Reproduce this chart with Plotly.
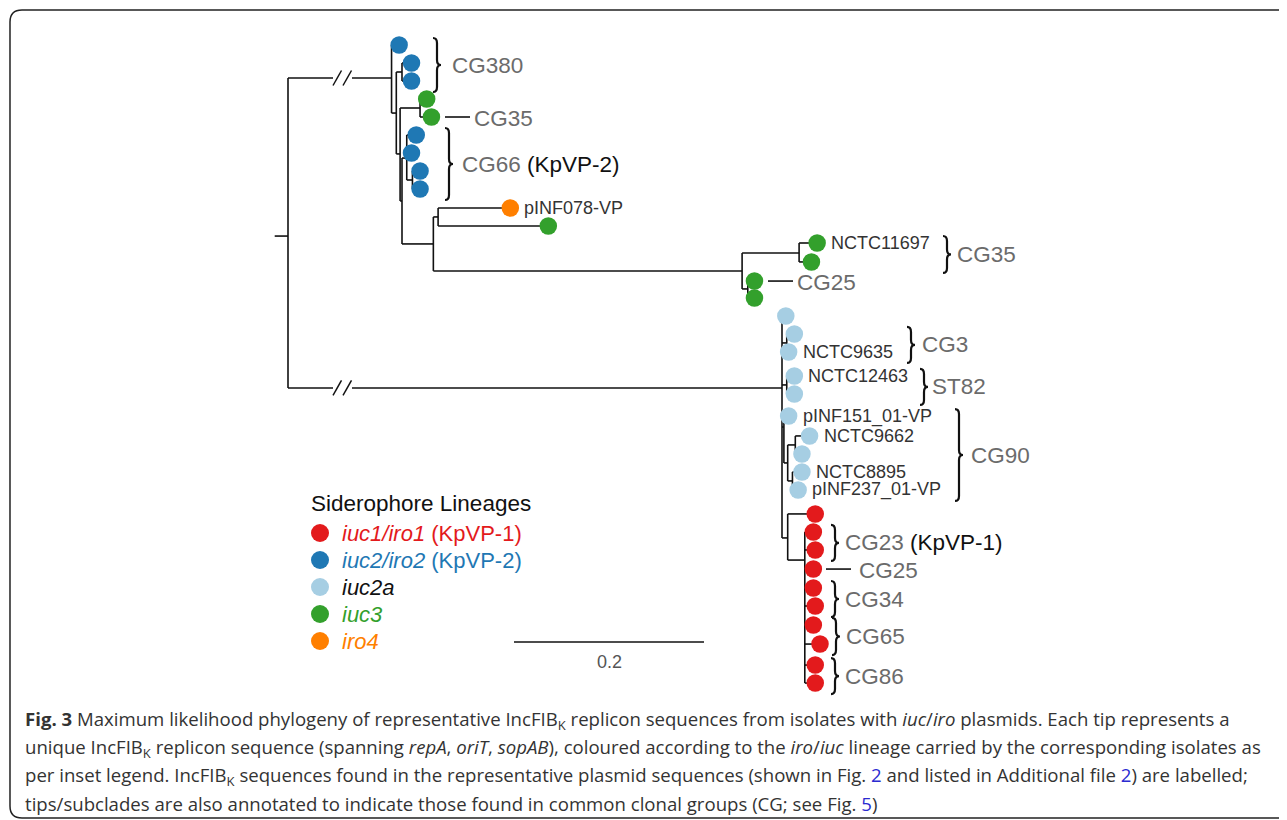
import plotly.graph_objects as go

# ---------------- data ----------------
# tips (top to bottom): parent node, siderophore lineage, divergence x (subs/site, display), row position
tip_parent = ["N1", "N3", "N3", "N5", "N5", "N7", "N7", "N9", "N9", "N10", "N10",
              "N12", "N12", "N13", "N13",
              "LB", "LB1", "LB1", "LB2", "LB2", "LB3", "LB5", "LB5", "LB6", "LB6",
              "RED", "R2", "R2", "R2", "R2", "R2", "R2", "R2", "R2", "R2"]
tip_lineage = ["iuc2", "iuc2", "iuc2", "iuc3", "iuc3", "iuc2", "iuc2", "iuc2", "iuc2", "iro4", "iuc3",
               "iuc3", "iuc3", "iuc3", "iuc3",
               "iuc2a", "iuc2a", "iuc2a", "iuc2a", "iuc2a", "iuc2a", "iuc2a", "iuc2a", "iuc2a", "iuc2a",
               "iuc1", "iuc1", "iuc1", "iuc1", "iuc1", "iuc1", "iuc1", "iuc1", "iuc1", "iuc1"]
tip_x = [0.117, 0.130, 0.130, 0.146, 0.151, 0.135, 0.130, 0.139, 0.139, 0.234, 0.274,
         0.557, 0.551, 0.491, 0.491,
         0.524, 0.533, 0.527, 0.533, 0.533, 0.527, 0.549, 0.541, 0.541, 0.537,
         0.555, 0.553, 0.555, 0.553, 0.553, 0.555, 0.553, 0.560, 0.555, 0.555]
tip_row = [0.00, 0.96, 1.92, 2.88, 3.84, 4.80, 5.76, 6.72, 7.68, 8.69, 9.65,
           10.56, 11.57, 12.59, 13.49,
           14.45, 15.41, 16.37, 17.65, 18.61, 19.79, 20.85, 21.81, 22.77, 23.73,
           25.01, 25.97, 26.93, 27.95, 28.96, 29.92, 30.93, 31.95, 33.07, 34.03]
tip_label = ["", "", "", "", "", "", "", "", "", "pINF078-VP", "",
             "NCTC11697", "", "", "",
             "", "", "NCTC9635", "NCTC12463", "", "pINF151_01-VP", "NCTC9662", "", "NCTC8895", "pINF237_01-VP",
             "", "", "", "", "", "", "", "", "", ""]

# internal nodes
node_id = ["root", "N1", "N2", "N3", "N4", "N5", "N6", "N7", "N9", "N8", "N10", "N11", "N12", "N13",
           "LB", "LB1", "LB2", "LB3", "LB4", "LB5", "LB6", "RED", "R2"]
node_parent = [None, "root", "N1", "N2", "N2", "N4", "N4", "N6", "N7", "N6", "N8", "N8", "N11", "N11",
               "root", "LB", "LB", "LB", "LB3", "LB4", "LB4", "LB", "RED"]
node_x = [0.0, 0.109, 0.114, 0.120, 0.118, 0.139, 0.120, 0.125, 0.131, 0.153, 0.158, 0.478, 0.538, 0.484,
          0.520, 0.525, 0.525, 0.522, 0.526, 0.534, 0.531, 0.526, 0.544]
node_row = [10.19, 1.76, 3.63, 1.44, 5.81, 3.36, 8.32, 6.03, 7.20, 10.61, 9.17, 12.05, 11.09, 13.01,
            18.29, 15.89, 18.13, 20.37, 22.29, 21.33, 23.25, 26.29, 27.47]
broken_branches = ["N1", "LB"]
root_edge = 0.014
scale_len = 0.2

# clade annotations
clade_text = ["CG380", "CG35", "CG66", "CG35", "CG25", "CG3", "ST82", "CG90",
              "CG23", "CG25", "CG34", "CG65", "CG86"]
clade_suffix = ["", "", " (KpVP-2)", "", "", "", "", "", " (KpVP-1)", "", "", "", ""]
clade_first = [1, 5, 6, 12, 14, 17, 19, 21, 27, 29, 30, 32, 34]
clade_last = [3, 5, 9, 13, 14, 18, 20, 25, 28, 29, 31, 33, 35]
clade_kind = ["brace", "dash", "brace", "brace", "dash", "brace", "brace", "brace",
              "brace", "dash", "brace", "brace", "brace"]

# legend
lineage_keys = ["iuc1", "iuc2", "iuc2a", "iuc3", "iro4"]
lineage_colors = ["#e31a1c", "#1f78b4", "#a6cee3", "#33a02c", "#ff7f00"]
lineage_names = ["<i>iuc1/iro1</i> (KpVP-1)", "<i>iuc2/iro2</i> (KpVP-2)", "<i>iuc2a</i>",
                 "<i>iuc3</i>", "<i>iro4</i>"]
lineage_text_colors = ["#e31a1c", "#1f78b4", "#111111", "#33a02c", "#ff7f00"]
legend_title = "Siderophore Lineages"

caption_lines = [
    "<b>Fig. 3</b> Maximum likelihood phylogeny of representative IncFIB<sub>K</sub> replicon sequences from isolates with <i>iuc</i>/<i>iro</i> plasmids. Each tip represents a",
    "unique IncFIB<sub>K</sub> replicon sequence (spanning <i>repA</i>, <i>oriT</i>, <i>sopAB</i>), coloured according to the <i>iro</i>/<i>iuc</i> lineage carried by the corresponding isolates as",
    "per inset legend. IncFIB<sub>K</sub> sequences found in the representative plasmid sequences (shown in Fig. <span style='color:#2b2bd0'>2</span> and listed in Additional file <span style='color:#2b2bd0'>2</span>) are labelled;",
    "tips/subclades are also annotated to indicate those found in common clonal groups (CG; see Fig. <span style='color:#2b2bd0'>5</span>)",
]

# ---------------- layout helpers ----------------
W, H = 1287, 820
OFF = 8.0  # page body margin of the browser
ROOT_PX, PX_PER_UNIT = 288.0, 950.0
TOP_PX, ROW_PX = 45.0, 18.75


def X(px):
    return (px - ROOT_PX) / PX_PER_UNIT


def Y(py):
    return (py - TOP_PX) / ROW_PX


def PY(row):
    return TOP_PX + row * ROW_PX


FONT = "Liberation Sans, Arial, Helvetica, sans-serif"
LINE = "#111111"
GRAY = "#6b6b6b"

# ---------------- build tree ----------------
nodes = {}
for i, nid in enumerate(node_id):
    nodes[nid] = dict(x=node_x[i], y=node_row[i], parent=node_parent[i])
for i in range(len(tip_x)):
    nodes[f"t{i+1}"] = dict(x=tip_x[i], y=tip_row[i], parent=tip_parent[i])

children = {}
for nid, d in nodes.items():
    if d["parent"] is not None:
        children.setdefault(d["parent"], []).append(nid)

gap0, gap1 = X(333), X(352)
lx, ly = [], []
for nid, d in nodes.items():
    p = d["parent"]
    if p is None:
        lx += [d["x"] - root_edge, d["x"], None]
        ly += [d["y"], d["y"], None]
        continue
    px_ = nodes[p]["x"]
    if nid in broken_branches:
        lx += [px_, gap0, None, gap1, d["x"], None]
        ly += [d["y"], d["y"], None, d["y"], d["y"], None]
    else:
        lx += [px_, d["x"], None]
        ly += [d["y"], d["y"], None]
for nid, ch in children.items():
    ys = [nodes[c]["y"] for c in ch] + [nodes[nid]["y"]]
    lx += [nodes[nid]["x"], nodes[nid]["x"], None]
    ly += [min(ys), max(ys), None]

fig = go.Figure()
fig.add_trace(go.Scatter(x=lx, y=ly, mode="lines", line=dict(color=LINE, width=1.6),
                         hoverinfo="skip", showlegend=False))

# break marks
for nid in broken_branches:
    yp = PY(nodes[nid]["y"])
    for x0 in (333, 343):
        fig.add_trace(go.Scatter(x=[X(x0), X(x0 + 8.5)], y=[Y(yp + 7.5), Y(yp - 7.5)], mode="lines",
                                 line=dict(color=LINE, width=1.5), hoverinfo="skip", showlegend=False))

cmap = dict(zip(lineage_keys, lineage_colors))
fig.add_trace(go.Scatter(x=tip_x, y=tip_row, mode="markers",
                         marker=dict(size=17.5, color=[cmap[l] for l in tip_lineage], line=dict(width=0)),
                         hoverinfo="skip", showlegend=False))

annotations = []
shapes = []

# tip labels
for i, lab in enumerate(tip_label):
    if lab:
        annotations.append(dict(x=tip_x[i], y=tip_row[i], xref="x", yref="y", text=lab, showarrow=False,
                                xanchor="left", yanchor="middle", xshift=13, borderpad=0,
                                font=dict(family=FONT, size=18, color="#333333")))

# clade annotations (positions in px)
clade_pos_x = [433, 445, 445, 943, 768, 907, 920, 955, 831, 826, 831, 832, 831]
clade_text_x = [452, 474, 462, 957, 797, 922, 932, 971, 845, 859, 845, 846, 845]


def brace_path(x, y0, y1, w=8.0):
    ym = (y0 + y1) / 2
    xm = x + w * 0.5
    r = min(5.0, (y1 - y0) / 6)
    pts = [("M", [(x, y0)]), ("Q", [(xm, y0), (xm, y0 + r)]), ("L", [(xm, ym - r)]),
           ("Q", [(xm, ym), (x + w, ym)]), ("Q", [(xm, ym), (xm, ym + r)]), ("L", [(xm, y1 - r)]),
           ("Q", [(xm, y1), (x, y1)])]
    s = ""
    for cmd, pp_ in pts:
        s += cmd + " " + " ".join(f"{X(a):.5f},{Y(b):.4f}" for a, b in pp_) + " "
    return s.strip()


for k in range(len(clade_text)):
    y_first = PY(tip_row[clade_first[k] - 1])
    y_last = PY(tip_row[clade_last[k] - 1])
    txt = f"<span style='color:{GRAY}'>{clade_text[k]}</span>"
    if clade_suffix[k]:
        txt += f"<span style='color:#111111'>{clade_suffix[k]}</span>"
    if clade_kind[k] == "brace":
        y0, y1 = y_first - 7, y_last + 11
        shapes.append(dict(type="path", xref="x", yref="y", path=brace_path(clade_pos_x[k], y0, y1),
                           line=dict(color=LINE, width=2.2)))
        ty = (y0 + y1) / 2
    else:
        yd = y_first
        shapes.append(dict(type="line", xref="x", yref="y", x0=X(clade_pos_x[k]), x1=X(clade_pos_x[k] + 25),
                           y0=Y(yd), y1=Y(yd), line=dict(color=LINE, width=1.6)))
        ty = yd + 1
    annotations.append(dict(x=X(clade_text_x[k]), y=Y(ty), xref="x", yref="y", text=txt, showarrow=False,
                            xanchor="left", yanchor="middle", xshift=-1, borderpad=0,
                            font=dict(family=FONT, size=22.5, color=GRAY)))

# legend
annotations.append(dict(x=X(310), y=Y(503), xref="x", yref="y", text=legend_title, showarrow=False,
                        xanchor="left", yanchor="middle", borderpad=0,
                        font=dict(family=FONT, size=22.5, color="#111111")))
leg_y = [533, 560, 587, 614, 641]
fig.add_trace(go.Scatter(x=[X(320)] * len(lineage_keys), y=[Y(v) for v in leg_y], mode="markers",
                         marker=dict(size=18, color=lineage_colors, line=dict(width=0)),
                         hoverinfo="skip", showlegend=False))
for k in range(len(lineage_keys)):
    annotations.append(dict(x=X(341), y=Y(leg_y[k]), xref="x", yref="y", text=lineage_names[k],
                            showarrow=False, xanchor="left", yanchor="middle", borderpad=0,
                            font=dict(family=FONT, size=22, color=lineage_text_colors[k])))

# scale bar
sb_x0 = X(514)
shapes.append(dict(type="line", xref="x", yref="y", x0=sb_x0, x1=sb_x0 + scale_len, y0=Y(642), y1=Y(642),
                   line=dict(color=LINE, width=1.6)))
annotations.append(dict(x=sb_x0 + scale_len / 2, y=Y(662), xref="x", yref="y", text=f"{scale_len:g}",
                        showarrow=False, xanchor="center", yanchor="middle", borderpad=0,
                        font=dict(family=FONT, size=18, color="#555555")))


# paper helpers (account for page offset)
def PXp(x):
    return (x - OFF) / W


def PYp(y):
    return 1 - (y - OFF) / H


# caption
cap_y = [720, 748, 776, 803]
for k, line in enumerate(caption_lines):
    annotations.append(dict(x=PXp(24), y=PYp(cap_y[k]), xref="paper", yref="paper", text=line,
                            showarrow=False, xanchor="left", yanchor="middle", borderpad=0,
                            font=dict(family="Open Sans, Noto Sans, sans-serif", size=18.6, color="#333333")))


def pp(x, y):
    return f"{PXp(x):.5f},{PYp(y):.5f}"


frame = (f"M {pp(1310, 10)} L {pp(22, 10)} Q {pp(10, 10)} {pp(10, 22)} "
         f"L {pp(10, 806)} Q {pp(10, 818)} {pp(22, 818)} L {pp(1310, 818)}")
shapes.append(dict(type="path", xref="paper", yref="paper", path=frame, line=dict(color="#222222", width=1.5)))

fig.update_layout(
    width=W, height=H, margin=dict(l=0, r=0, t=0, b=0, pad=0),
    paper_bgcolor="white", plot_bgcolor="white",
    xaxis=dict(range=[X(OFF), X(W + OFF)], visible=False, fixedrange=True),
    yaxis=dict(range=[Y(H + OFF), Y(OFF)], visible=False, fixedrange=True),
    annotations=annotations, shapes=shapes, hovermode=False, showlegend=False,
)

fig.write_html("out.html")
